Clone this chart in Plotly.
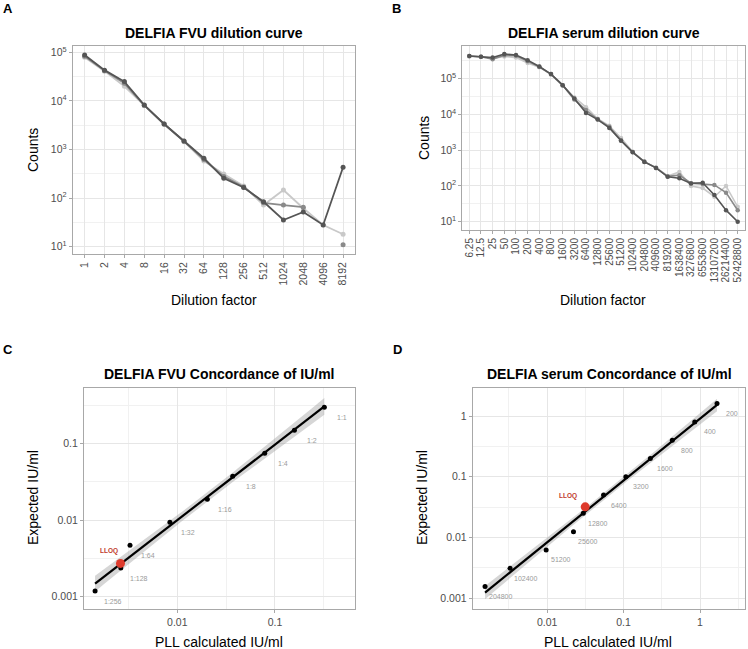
import numpy as np
import plotly.graph_objects as go

W, H = 748, 649

# ---------------- Data ----------------
# Panel A: DELFIA FVU dilution curve
fvu_dilutions = ["1", "2", "4", "8", "16", "32", "64", "128", "256", "512", "1024", "2048", "4096", "8192"]
fvu_rep_light = [79000, 41000, 20000, 8000, 3300, 1450, 580, 313, 177, 72, 147, 62, 28, 18]
fvu_rep_medium = [83000, 42000, 23000, 8100, 3350, 1480, 620, 280, 170, 80, 72, 65, None, 11]
fvu_rep_dark = [88000, 43000, 25000, 8200, 3350, 1500, 660, 255, 166, 84, 35.5, 52, 28, 430]

# Panel B: DELFIA serum dilution curve
serum_dilutions = ["6.25", "12.5", "25", "50", "100", "200", "400", "800", "1600", "3200", "6400",
                   "12800", "25600", "51200", "102400", "204800", "409600", "819200", "1638400",
                   "3276800", "6553600", "13107200", "26214400", "52428800"]
serum_rep_light = [420000, 410000, 370000, 420000, 390000, 275000, 210000, 130000, 64000, 30000, 16000,
                   7600, 4800, 2200, 900, 480, 330, 190, 245, 100, 87, 50, 100, 26]
serum_rep_medium = [430000, 410000, 350000, 450000, 440000, 310000, 215000, 135000, 66000, 26000, 13300,
                    7300, 4500, 1900, 890, 480, 320, 185, 200, 120, 113, 107, 65, 21]
serum_rep_dark = [430000, 410000, 390000, 490000, 460000, 330000, 220000, 135000, 66000, 28000, 11000,
                  7200, 4200, 1850, 870, 470, 320, 180, 165, 118, 123, 56, 21, 10]

# Panel C: DELFIA FVU concordance
fvu_labels = ["1:1", "1:2", "1:4", "1:8", "1:16", "1:32", "1:64", "1:128", "1:256"]
fvu_pll = [0.32, 0.158, 0.0785, 0.0369, 0.0203, 0.0084, 0.00328, 0.00264, 0.00144]
fvu_expected = [0.3, 0.15, 0.075, 0.0375, 0.01875, 0.009375, 0.0046875, 0.00234375, 0.001171875]
fvu_lloq_pll = [0.00262]
fvu_lloq_expected = [0.0027]

# Panel D: DELFIA serum concordance
serum_labels = ["200", "400", "800", "1600", "3200", "6400", "12800", "25600", "51200", "102400", "204800"]
serum_pll = [1.67, 0.853, 0.434, 0.224, 0.107, 0.0547, 0.0297, 0.0221, 0.0097, 0.00327, 0.00154]
serum_expected = [1.6, 0.8, 0.4, 0.2, 0.1, 0.05, 0.025, 0.0125, 0.00625, 0.003125, 0.0015625]
serum_lloq_pll = [0.0315]
serum_lloq_expected = [0.032]

# ---------------- Helpers ----------------
def px_x(p):
    return p / W

def px_y(p):
    return 1 - p / H

FONT = "Liberation Sans, Arial, Helvetica, sans-serif"
C_LIGHT, C_MED, C_DARK = "#c9c9c9", "#8a8a8a", "#555555"
GRID, GRID_MINOR = "#e6e6e6", "#f1f1f1"
BORDER = "#a8a8a8"
TICKC = "#4d4d4d"


def lm_band(xs, ys, tval, npts=80):
    lx = np.log10(np.array(xs, dtype=float))
    ly = np.log10(np.array(ys, dtype=float))
    n = len(lx)
    b, a = np.polyfit(lx, ly, 1)
    resid = ly - (a + b * lx)
    s = np.sqrt(np.sum(resid ** 2) / (n - 2))
    g = np.linspace(lx.min(), lx.max(), npts)
    pred = a + b * g
    se = s * np.sqrt(1 / n + (g - lx.mean()) ** 2 / np.sum((lx - lx.mean()) ** 2))
    return 10 ** g, 10 ** pred, 10 ** (pred + tval * se), 10 ** (pred - tval * se)


fig = go.Figure()

# ---------------- Panel A ----------------
for vals, col in [(fvu_rep_light, C_LIGHT), (fvu_rep_medium, C_MED), (fvu_rep_dark, C_DARK)]:
    fig.add_trace(go.Scatter(x=fvu_dilutions, y=vals, mode="lines+markers",
                             line=dict(color=col, width=1.8), marker=dict(color=col, size=5),
                             connectgaps=False, xaxis="x", yaxis="y", showlegend=False))

# ---------------- Panel B ----------------
for vals, col in [(serum_rep_light, C_LIGHT), (serum_rep_medium, C_MED), (serum_rep_dark, C_DARK)]:
    fig.add_trace(go.Scatter(x=serum_dilutions, y=vals, mode="lines+markers",
                             line=dict(color=col, width=1.6), marker=dict(color=col, size=4.5),
                             xaxis="x2", yaxis="y2", showlegend=False))

# ---------------- Panels C & D ----------------
annotations = []


def concordance(xs, ys, labels, lloq_x, lloq_y, tval, xa, ya, lab_shift, lloq_shift):
    gx, gp, gu, gl = lm_band(xs, ys, tval)
    fig.add_trace(go.Scatter(x=np.concatenate([gx, gx[::-1]]), y=np.concatenate([gu, gl[::-1]]),
                             fill="toself", fillcolor="rgba(153,153,153,0.4)", line=dict(width=0),
                             mode="lines", hoverinfo="skip", xaxis=xa, yaxis=ya, showlegend=False))
    fig.add_trace(go.Scatter(x=gx, y=gp, mode="lines", line=dict(color="black", width=2.2),
                             xaxis=xa, yaxis=ya, showlegend=False))
    fig.add_trace(go.Scatter(x=xs, y=ys, mode="markers", marker=dict(color="black", size=5),
                             xaxis=xa, yaxis=ya, showlegend=False))
    fig.add_trace(go.Scatter(x=lloq_x, y=lloq_y, mode="markers", marker=dict(color="#de3a2c", size=9),
                             xaxis=xa, yaxis=ya, showlegend=False))
    for lx, ly, t in zip(xs, ys, labels):
        annotations.append(dict(x=np.log10(lx), y=np.log10(ly), xref=xa, yref=ya, text=t,
                                showarrow=False, xshift=lab_shift[0], yshift=lab_shift[1],
                                font=dict(size=7, color="#9a9a9a", family=FONT)))
    annotations.append(dict(x=np.log10(lloq_x[0]), y=np.log10(lloq_y[0]), xref=xa, yref=ya,
                            text="<b>LLOQ</b>", showarrow=False, xshift=lloq_shift[0], yshift=lloq_shift[1],
                            font=dict(size=6.5, color="#c0392b", family=FONT)))


concordance(fvu_pll, fvu_expected, fvu_labels, fvu_lloq_pll, fvu_lloq_expected, 2.3646,
            "x3", "y3", (18, -10), (-11, 12))
concordance(serum_pll, serum_expected, serum_labels, serum_lloq_pll, serum_lloq_expected, 2.2622,
            "x4", "y4", (15, -10), (-17, 11))


# ---------------- Axes ----------------
def base_axis(domain, anchor, **kw):
    d = dict(domain=domain, anchor=anchor, showline=True, mirror=True, linecolor=BORDER, linewidth=1,
             ticks="outside", ticklen=3, tickcolor=BORDER, tickwidth=1,
             tickfont=dict(size=10.5, color=TICKC, family=FONT),
             showgrid=True, gridcolor=GRID, gridwidth=0.9, zeroline=False)
    d.update(kw)
    return d


pow_vals = [10, 100, 1000, 10000, 100000]
pow_text = ["10<sup>1</sup>", "10<sup>2</sup>", "10<sup>3</sup>", "10<sup>4</sup>", "10<sup>5</sup>"]
pow_minor = [10 ** 1.5, 10 ** 2.5, 10 ** 3.5, 10 ** 4.5, 10 ** 5.5]

layout_axes = dict(
    xaxis=base_axis([px_x(72.7), px_x(355)], "y", type="category", categoryorder="array",
                    categoryarray=fvu_dilutions, range=[-0.6, len(fvu_dilutions) - 0.4], tickangle=-90,
                    tickmode="array", tickvals=fvu_dilutions, ticktext=fvu_dilutions),
    yaxis=base_axis([px_y(254), px_y(46)], "x", type="log", range=[0.85, 5.13],
                    tickmode="array", tickvals=pow_vals, ticktext=pow_text,
                    minor=dict(tickvals=pow_minor, showgrid=True, gridcolor=GRID_MINOR, gridwidth=0.7, ticklen=0)),
    xaxis2=base_axis([px_x(462.3), px_x(744.7)], "y2", type="category", categoryorder="array",
                     categoryarray=serum_dilutions, range=[-0.6, len(serum_dilutions) - 0.4], tickangle=-90,
                     tickmode="array", tickvals=serum_dilutions, ticktext=serum_dilutions,
                     tickfont=dict(size=10, color=TICKC, family=FONT)),
    yaxis2=base_axis([px_y(230), px_y(46)], "x2", type="log", range=[0.768, 5.915],
                     tickmode="array", tickvals=pow_vals, ticktext=pow_text,
                     minor=dict(tickvals=pow_minor, showgrid=True, gridcolor=GRID_MINOR, gridwidth=0.7, ticklen=0)),
    xaxis3=base_axis([px_x(84), px_x(355)], "y3", type="log", range=[-2.955, -0.181],
                     tickmode="array", tickvals=[0.001, 0.01, 0.1, 1], ticktext=["0.001", "0.01", "0.1", "1"],
                     minor=dict(tickvals=[10 ** -2.5, 10 ** -1.5, 10 ** -0.5], showgrid=True,
                                gridcolor=GRID_MINOR, gridwidth=0.7, ticklen=0)),
    yaxis3=base_axis([px_y(609.3), px_y(388.3)], "x3", type="log", range=[-3.170, -0.274],
                     tickmode="array", tickvals=[0.001, 0.01, 0.1, 1], ticktext=["0.001", "0.01", "0.1", "1"],
                     minor=dict(tickvals=[10 ** -2.5, 10 ** -1.5, 10 ** -0.5], showgrid=True,
                                gridcolor=GRID_MINOR, gridwidth=0.7, ticklen=0)),
    xaxis4=base_axis([px_x(472.7), px_x(744.5)], "y4", type="log", range=[-2.974, 0.582],
                     tickmode="array", tickvals=[0.001, 0.01, 0.1, 1], ticktext=["0.001", "0.01", "0.1", "1"],
                     minor=dict(tickvals=[10 ** -2.5, 10 ** -1.5, 10 ** -0.5, 10 ** 0.5], showgrid=True,
                                gridcolor=GRID_MINOR, gridwidth=0.7, ticklen=0)),
    yaxis4=base_axis([px_y(609.3), px_y(388.3)], "x4", type="log", range=[-3.181, 0.456],
                     tickmode="array", tickvals=[0.001, 0.01, 0.1, 1], ticktext=["0.001", "0.01", "0.1", "1"],
                     minor=dict(tickvals=[10 ** -2.5, 10 ** -1.5, 10 ** -0.5], showgrid=True,
                                gridcolor=GRID_MINOR, gridwidth=0.7, ticklen=0)),
)


# ---------------- Text annotations ----------------
def paper_text(x, y, text, size, bold=False, angle=0, color="black"):
    annotations.append(dict(x=px_x(x), y=px_y(y), xref="paper", yref="paper",
                            text=f"<b>{text}</b>" if bold else text, showarrow=False,
                            xanchor="center", yanchor="middle", textangle=angle,
                            font=dict(size=size, color=color, family=FONT)))


paper_text(7.5, 8.5, "A", 13, bold=True)
paper_text(396.5, 8.5, "B", 13, bold=True)
paper_text(7.5, 349.5, "C", 13, bold=True)
paper_text(397.5, 349.5, "D", 13, bold=True)

paper_text(214, 33, "DELFIA FVU dilution curve", 14, bold=True)
paper_text(603.5, 33, "DELFIA serum dilution curve", 14, bold=True)
paper_text(219, 373.5, "DELFIA FVU Concordance of IU/ml", 14, bold=True)
paper_text(609, 374, "DELFIA serum Concordance of IU/ml", 14, bold=True)

paper_text(33, 150, "Counts", 14, angle=-90)
paper_text(424, 138, "Counts", 14, angle=-90)
paper_text(214, 300, "Dilution factor", 14)
paper_text(603, 300, "Dilution factor", 14)
paper_text(33, 498, "Expected IU/ml", 14, angle=-90)
paper_text(422, 498, "Expected IU/ml", 14, angle=-90)
paper_text(219, 642, "PLL calculated IU/ml", 14)
paper_text(608, 642, "PLL calculated IU/ml", 14)

fig.update_layout(width=W, height=H, autosize=False, margin=dict(l=0, r=0, t=0, b=0),
                  paper_bgcolor="white", plot_bgcolor="white", showlegend=False,
                  font=dict(family=FONT), annotations=annotations, **layout_axes)

fig.write_html("out.html", config={"displayModeBar": False},
               post_script="document.body.style.margin='0';document.body.style.padding='0';"
                           "document.body.style.overflow='hidden';"
                           "document.documentElement.style.overflow='hidden';")
